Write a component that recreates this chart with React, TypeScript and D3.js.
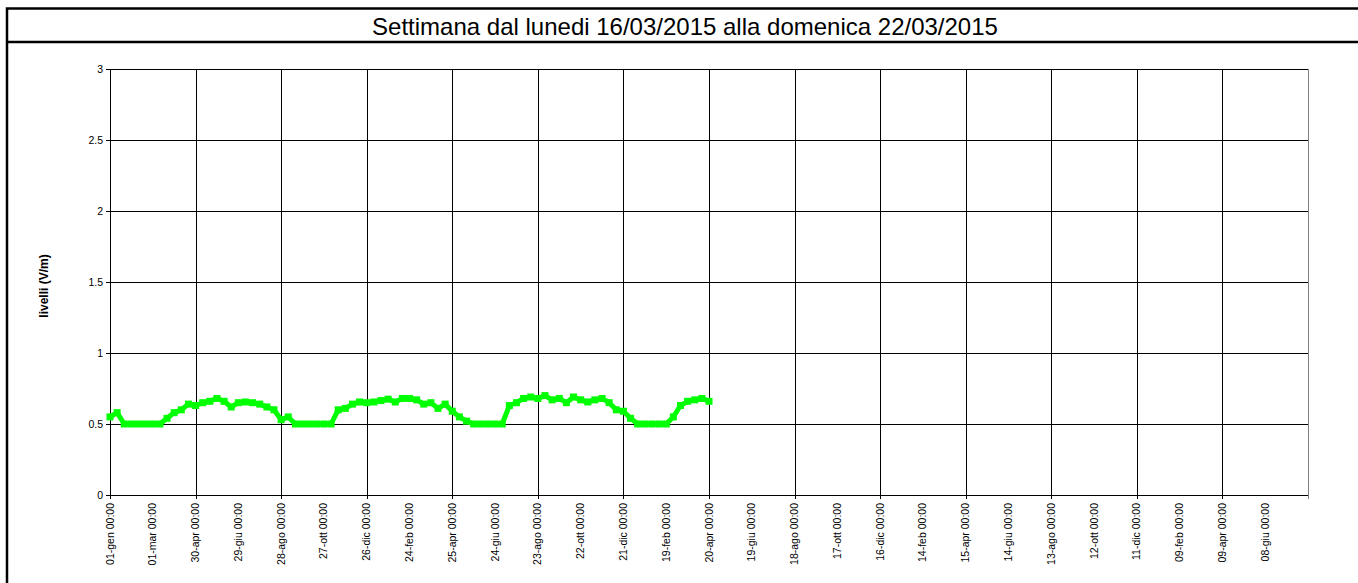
import React from 'react';
import * as d3 from 'd3';

// hourly levels (V/m), week 16/03/2015 - 22/03/2015, data stops mid-week
const levels = [
  0.55, 0.58, 0.5, 0.5, 0.5, 0.5, 0.5, 0.5, 0.54, 0.58,
  0.6, 0.64, 0.63, 0.65, 0.66, 0.68, 0.66, 0.62, 0.65, 0.655,
  0.65, 0.64, 0.62, 0.6, 0.53, 0.55, 0.5, 0.5, 0.5, 0.5,
  0.5, 0.5, 0.6, 0.61, 0.64, 0.655, 0.65, 0.655, 0.665, 0.675,
  0.655, 0.68, 0.68, 0.67, 0.64, 0.65, 0.61, 0.64, 0.59, 0.55,
  0.52, 0.5, 0.5, 0.5, 0.5, 0.5, 0.63, 0.65, 0.68, 0.69,
  0.68, 0.7, 0.67, 0.68, 0.65, 0.69, 0.67, 0.655, 0.67, 0.68,
  0.65, 0.6, 0.59, 0.54, 0.5, 0.5, 0.5, 0.5, 0.5, 0.55,
  0.63, 0.66, 0.67, 0.68, 0.66,
];

const xLabels = [
  '01-gen 00:00', '01-mar 00:00', '30-apr 00:00', '29-giu 00:00', '28-ago 00:00',
  '27-ott 00:00', '26-dic 00:00', '24-feb 00:00', '25-apr 00:00', '24-giu 00:00',
  '23-ago 00:00', '22-ott 00:00', '21-dic 00:00', '19-feb 00:00', '20-apr 00:00',
  '19-giu 00:00', '18-ago 00:00', '17-ott 00:00', '16-dic 00:00', '14-feb 00:00',
  '15-apr 00:00', '14-giu 00:00', '13-ago 00:00', '12-ott 00:00', '11-dic 00:00',
  '09-feb 00:00', '09-apr 00:00', '08-giu 00:00',
];

const yTicks = [0, 0.5, 1, 1.5, 2, 2.5, 3];

const title = 'Settimana dal lunedi 16/03/2015 alla domenica 22/03/2015';
const hoursPerLabel = 6;
const totalHours = 168;

const W = 1358;
const H = 583;
const plot = { left: 110, right: 1308, top: 69, bottom: 495 };
const font = 'Arial, "Liberation Sans", sans-serif';

export default function App() {
  const x = d3.scaleLinear().domain([0, totalHours]).range([plot.left, plot.right]);
  const y = d3.scaleLinear().domain([0, 3]).range([plot.bottom, plot.top]);

  const line = d3.line<number>()
    .x((_, i) => x(i))
    .y(d => y(d));

  const gridHours = d3.range(0, totalHours + 1, hoursPerLabel * 2);

  return (
    <svg width={W} height={H} style={{ position: 'absolute', left: 0, top: 0, background: '#fff' }}>
      <rect x={7} y={8.5} width={W + 10} height={H + 10} fill="#fff" stroke="#000" strokeWidth={2.5} />
      <line x1={7} x2={W + 10} y1={42} y2={42} stroke="#000" strokeWidth={2.5} />
      <text x={685} y={35} textAnchor="middle" fontFamily={font} fontSize={24} fill="#000">{title}</text>

      {/* horizontal grid */}
      {yTicks.map(t => (
        <g key={'y' + t}>
          <line x1={plot.left - 4} x2={plot.right} y1={Math.round(y(t)) + 0.5} y2={Math.round(y(t)) + 0.5} stroke="#000" strokeWidth={1} />
          <text x={plot.left - 7} y={y(t) + 3.5} textAnchor="end" fontFamily={font} fontSize={10.5} fill="#000">{t}</text>
        </g>
      ))}

      {/* vertical grid */}
      {gridHours.map(h => (
        <line key={'x' + h} x1={Math.round(x(h)) + 0.5} x2={Math.round(x(h)) + 0.5} y1={plot.top} y2={plot.bottom + 4}
          stroke={h === totalHours ? '#808080' : '#000'} strokeWidth={1} />
      ))}

      {xLabels.map((lab, i) => {
        const px = x(i * hoursPerLabel) + 3.5;
        return (
          <text key={lab + i} transform={`translate(${px},503) rotate(-90)`} textAnchor="end"
            fontFamily={font} fontSize={10.5} fill="#000">{lab}</text>
        );
      })}

      <text transform={`translate(48,286) rotate(-90)`} textAnchor="middle"
        fontFamily={font} fontSize={12} fontWeight="bold" fill="#000">livelli (V/m)</text>

      <path d={line(levels) ?? ''} fill="none" stroke="#00ff00" strokeWidth={5} strokeLinejoin="round" />
      {levels.map((v, i) => (
        <rect key={'m' + i} x={x(i) - 3.5} y={y(v) - 3.5} width={7} height={7} fill="#00ff00" />
      ))}
    </svg>
  );
}
